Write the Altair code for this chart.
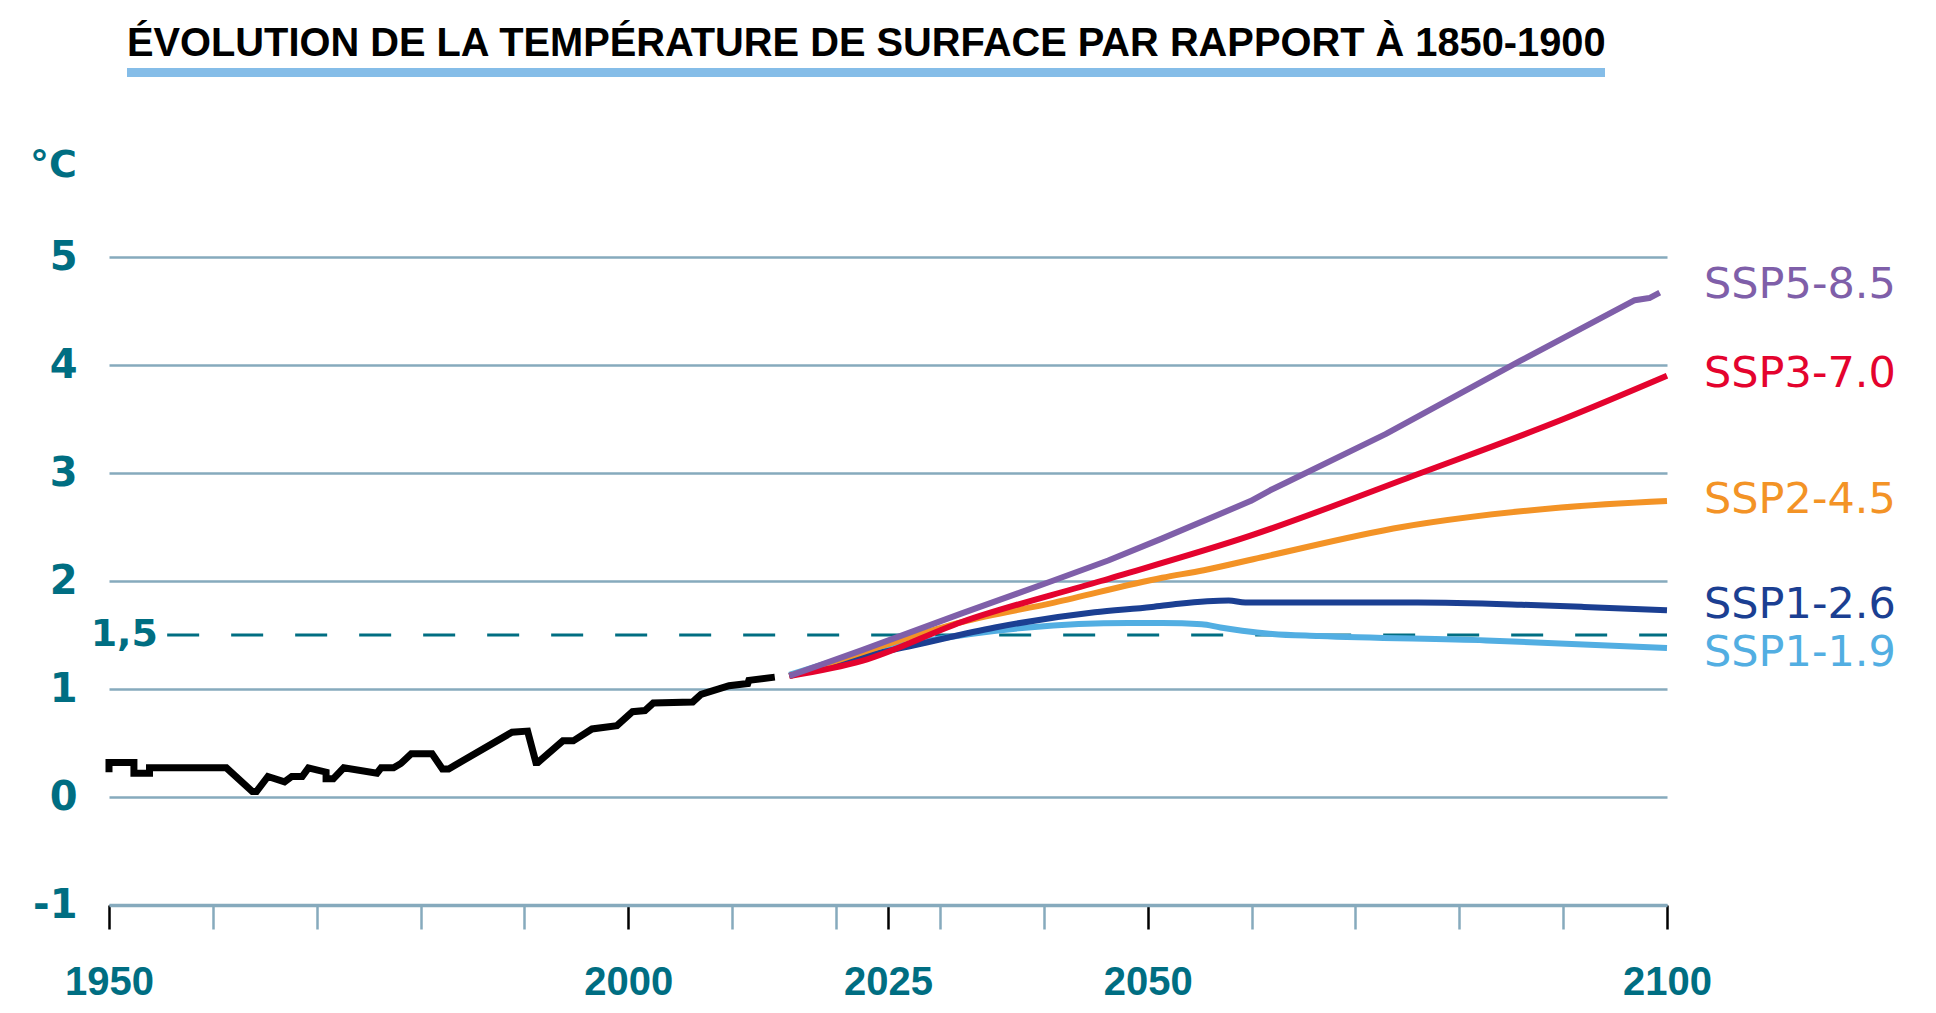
import altair as alt
import pandas as pd

# ---------------- data ----------------
hist_year = [1950.0, 1950.0, 1952.4, 1952.4, 1953.9, 1953.9, 1961.3, 1963.8, 1964.2, 1965.3,
             1966.9, 1967.6, 1968.6, 1969.2, 1970.9, 1970.9, 1971.6, 1972.6, 1975.8, 1976.2,
             1977.4, 1978.1, 1979.1, 1981.1, 1982.1, 1982.7, 1988.8, 1990.3, 1991.1, 1991.3,
             1993.7, 1994.7, 1996.5, 1998.9, 2000.4, 2001.6, 2002.4, 2006.2, 2007.0, 2009.7,
             2011.5, 2011.6, 2014.1]
hist_temp = [0.23, 0.32, 0.32, 0.22, 0.22, 0.27, 0.27, 0.05, 0.05, 0.19,
             0.14, 0.19, 0.19, 0.27, 0.23, 0.17, 0.17, 0.27, 0.22, 0.27,
             0.27, 0.31, 0.40, 0.40, 0.26, 0.26, 0.60, 0.61, 0.32, 0.32,
             0.52, 0.52, 0.63, 0.66, 0.79, 0.80, 0.87, 0.88, 0.95, 1.03,
             1.05, 1.08, 1.11]

ssp119_year = [2015.5, 2022.5, 2028.9, 2038.5, 2048.2, 2051.4, 2055.2, 2057.0, 2059.1, 2062.0, 2066.5, 2082.6, 2100.0]
ssp119_temp = [1.13, 1.33, 1.45, 1.57, 1.61, 1.61, 1.60, 1.57, 1.54, 1.51, 1.49, 1.45, 1.38]

ssp126_year = [2015.5, 2022.5, 2027.3, 2035.3, 2044.9, 2050.4, 2053.0, 2057.8, 2059.4, 2076.0, 2086.0, 2092.0, 2100.0]
ssp126_temp = [1.12, 1.30, 1.40, 1.57, 1.71, 1.76, 1.79, 1.82, 1.80, 1.80, 1.78, 1.76, 1.73]

ssp245_year = [2015.5, 2022.5, 2032.1, 2041.0, 2051.4, 2055.4, 2061.0, 2074.5, 2089.8, 2100.0]
ssp245_temp = [1.12, 1.34, 1.62, 1.80, 2.03, 2.10, 2.22, 2.50, 2.68, 2.74]

ssp370_year = [2015.5, 2022.5, 2032.1, 2045.5, 2059.9, 2076.3, 2089.8, 2100.0]
ssp370_temp = [1.12, 1.26, 1.62, 2.00, 2.42, 3.00, 3.49, 3.90]

ssp585_year = [2015.5, 2022.5, 2032.1, 2040.8, 2046.2, 2051.3, 2059.9, 2061.8, 2063.3, 2072.9, 2085.9, 2096.9, 2098.3, 2099.3]
ssp585_temp = [1.12, 1.36, 1.70, 2.00, 2.19, 2.39, 2.74, 2.84, 2.91, 3.36, 4.04, 4.60, 4.62, 4.67]

scenario_names = ["SSP1-1.9", "SSP1-2.6", "SSP2-4.5", "SSP3-7.0", "SSP5-8.5"]
scenario_colors = ["#52aee2", "#1b3f92", "#f39326", "#e4032e", "#7f5fa9"]

label_names = ["SSP5-8.5", "SSP3-7.0", "SSP2-4.5", "SSP1-2.6", "SSP1-1.9"]
label_pos = [4.74, 3.92, 2.75, 1.78, 1.33]

y_ticks = [-1, 0, 1, 2, 3, 4, 5]
x_ticks = [1950, 1960, 1970, 1980, 1990, 2000, 2010, 2020, 2025, 2030, 2040, 2050, 2060, 2070, 2080, 2090, 2100]
x_labeled = [1950, 2000, 2025, 2050, 2100]
threshold = 1.5

title_text = "ÉVOLUTION DE LA TEMPÉRATURE DE SURFACE PAR RAPPORT À 1850-1900"

# ---------------- tables ----------------
hist_df = pd.DataFrame({"year": hist_year, "temp": hist_temp, "i": range(len(hist_year))})

scen_series = [(ssp119_year, ssp119_temp), (ssp126_year, ssp126_temp), (ssp245_year, ssp245_temp),
               (ssp370_year, ssp370_temp), (ssp585_year, ssp585_temp)]
rows = []
for k, (name, (ys, ts)) in enumerate(zip(scenario_names, scen_series)):
    for j, (yy, tt) in enumerate(zip(ys, ts)):
        rows.append({"series": name, "year": yy, "temp": tt, "i": j, "k": k})
scen_df = pd.DataFrame(rows)

lab_df = pd.DataFrame({"series": label_names, "temp": label_pos})
thr_df = pd.DataFrame({"year": [1955.6], "year2": [2100], "temp": [threshold], "txt": ["1,5"]})
one = pd.DataFrame({"t": [title_text]})

TEAL = "#006e82"
GRID = "#86aabd"
labeled_test = "indexof([" + ",".join(str(v) for v in x_labeled) + "], datum.value) >= 0"

xscale = alt.Scale(domain=[1950, 2100], nice=False, zero=False)
yscale = alt.Scale(domain=[-1, 5], nice=False, zero=False)

xaxis = alt.Axis(
    values=x_ticks, grid=False, title=None,
    domainColor=GRID, domainWidth=3.5,
    tickColor={"condition": {"test": labeled_test, "value": "black"}, "value": GRID},
    tickWidth=2.5, tickSize=24,
    labelExpr=labeled_test.replace(" >= 0", " >= 0 ? '' + datum.value : ''"),
    labelFont="Liberation Sans", labelFontWeight="bold", labelFontSize=40,
    labelColor=TEAL, labelPadding=53, labelBaseline="middle",
    labelFlush=False, labelOverlap=False,
)
yaxis = alt.Axis(
    values=y_ticks, grid=True, gridColor=GRID, gridWidth=2.5, title=None,
    domain=False, ticks=False, tickSize=0,
    labelExpr="datum.value == -1 ? '-1' : '' + datum.value",
    labelFont="DejaVu Sans", labelFontWeight="bold", labelFontSize=40,
    labelColor=TEAL, labelPadding=32, labelBaseline="middle",
)


def X(field="year"):
    return alt.X(f"{field}:Q", scale=xscale, axis=xaxis)


def Y(field="temp"):
    return alt.Y(f"{field}:Q", scale=yscale, axis=yaxis)


color = alt.Color("series:N", scale=alt.Scale(domain=scenario_names, range=scenario_colors), legend=None)

thr_rule = alt.Chart(thr_df).mark_rule(color=TEAL, strokeWidth=3, strokeDash=[32, 32]).encode(
    x=X(), x2="year2:Q", y=Y()
)
thr_text = alt.Chart(thr_df).mark_text(
    align="right", baseline="middle", font="DejaVu Sans", fontWeight="bold", fontSize=38, color=TEAL
).encode(x=alt.value(49), y=Y(), text="txt:N")

hist = alt.Chart(hist_df).mark_line(color="black", strokeWidth=7).encode(
    x=X(), y=Y(), order="i:Q"
)

scen_smooth = alt.Chart(scen_df).transform_filter(
    "datum.series != 'SSP5-8.5'"
).mark_line(strokeWidth=6, interpolate="monotone").encode(
    x=X(), y=Y(), color=color, order="i:Q", detail="series:N"
)
scen_high = alt.Chart(scen_df).transform_filter(
    "datum.series == 'SSP5-8.5'"
).mark_line(strokeWidth=6, strokeJoin="round").encode(
    x=X(), y=Y(), color=color, order="i:Q"
)

labels = alt.Chart(lab_df).mark_text(
    align="left", baseline="middle", font="DejaVu Sans", fontSize=43
).encode(x=alt.value(1595), y=Y(), text="series:N", color=color)

title = alt.Chart(one).mark_text(
    align="left", baseline="alphabetic", font="Liberation Sans", fontWeight="bold", fontSize=39.8, color="black"
).encode(x=alt.value(18), y=alt.value(-201), text="t:N")

underline = alt.Chart(one).mark_rule(color="#85bde8", strokeWidth=9).encode(
    x=alt.value(18), x2=alt.value(1496), y=alt.value(-184.5)
)

unit = alt.Chart(one).mark_text(
    align="right", baseline="middle", font="DejaVu Sans", fontWeight="bold", fontSize=38, color=TEAL, text="°C"
).encode(x=alt.value(-32), y=alt.value(-91))

chart = alt.layer(thr_rule, hist, scen_smooth, scen_high, thr_text, labels, title, underline, unit).properties(
    width=1558, height=648,
    background="white",
    autosize=alt.AutoSizeParams(type="none"),
    padding={"left": 101, "top": 249, "right": 260, "bottom": 100},
).configure_view(strokeWidth=0)

chart.save("out.html", embed_options={"renderer": "svg", "actions": False})
